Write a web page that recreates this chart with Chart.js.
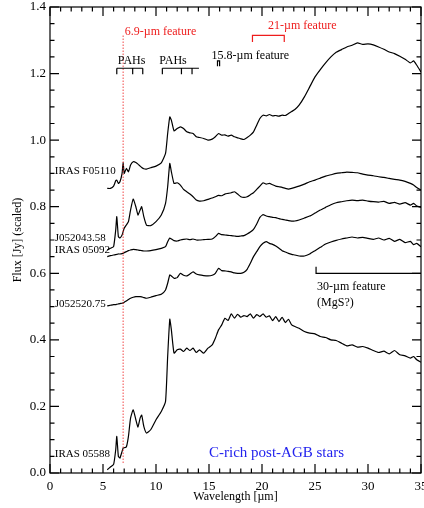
<!DOCTYPE html>
<html>
<head>
<meta charset="utf-8">
<script src="https://cdn.jsdelivr.net/npm/chart.js@4.4.1/dist/chart.umd.min.js"></script>
<style>
    html, body { margin: 0; padding: 0; background: #fff; }
    #wrap { width: 424px; height: 508px; }
</style>
</head>
<body>
<div id="wrap"><canvas id="spectra" width="424" height="508"></canvas></div>
<script>
// wavelength grid (µm), shared by all spectra
const wavelength = [
    5.4, 5.7, 6.0, 6.2, 6.3, 6.45, 6.6, 6.8, 6.9, 7.0,
    7.2, 7.4, 7.6, 7.85, 8.1, 8.3, 8.5, 8.65, 8.85, 9.1,
    9.5, 10.0, 10.5, 10.9, 11.1, 11.3, 11.45, 11.7, 12.0, 12.3,
    12.6, 12.9, 13.2, 13.5, 13.8, 14.1, 14.5, 14.9, 15.3, 15.6,
    15.9, 16.2, 16.5, 16.8, 17.1, 17.4, 17.7, 18.0, 18.3, 18.6,
    18.9, 19.2, 19.5, 19.8, 20.1, 20.4, 20.7, 21.0, 21.3, 21.6,
    21.9, 22.2, 22.5, 22.8, 23.1, 23.5, 24.0, 24.5, 25.0, 25.5,
    26.0, 26.5, 27.0, 27.5, 28.0, 28.5, 29.0, 29.5, 30.0, 30.5,
    31.0, 31.5, 32.0, 32.5, 33.0, 33.5, 34.0, 34.3, 34.6, 35.0
];

const fluxF05110 = [
    0.855, 0.855, 0.862, 0.878, 0.880, 0.870, 0.875, 0.900, 0.933, 0.900,
    0.915, 0.905, 0.925, 0.935, 0.933, 0.928, 0.922, 0.918, 0.914, 0.913,
    0.917, 0.922, 0.932, 0.960, 1.020, 1.070, 1.060, 1.028, 1.035, 1.040,
    1.035, 1.025, 1.022, 1.020, 1.010, 1.008, 1.005, 1.000, 1.003, 1.010,
    1.020, 1.015, 1.016, 1.012, 1.015, 1.010, 1.007, 1.004, 1.002, 1.008,
    1.015, 1.025, 1.045, 1.065, 1.075, 1.073, 1.077, 1.073, 1.074, 1.072,
    1.075, 1.074, 1.080, 1.086, 1.092, 1.105, 1.130, 1.160, 1.190, 1.212,
    1.232, 1.250, 1.264, 1.272, 1.280, 1.285, 1.292, 1.288, 1.289, 1.286,
    1.280, 1.273, 1.265, 1.260, 1.252, 1.243, 1.232, 1.238, 1.225, 1.205
];

const fluxJ052043 = [
    0.670, 0.675, 0.680, 0.730, 0.770, 0.710, 0.706, 0.715, 0.725, 0.735,
    0.745, 0.755, 0.790, 0.823, 0.800, 0.775, 0.790, 0.800, 0.770, 0.745,
    0.743, 0.755, 0.775, 0.810, 0.860, 0.930, 0.905, 0.870, 0.872, 0.865,
    0.852, 0.845, 0.838, 0.830, 0.820, 0.817, 0.818, 0.822, 0.826, 0.830,
    0.834, 0.833, 0.838, 0.840, 0.842, 0.845, 0.838, 0.830, 0.828, 0.830,
    0.836, 0.842, 0.852, 0.862, 0.872, 0.868, 0.870, 0.866, 0.862, 0.860,
    0.858, 0.855, 0.853, 0.855, 0.858, 0.862, 0.868, 0.875, 0.880, 0.886,
    0.892, 0.896, 0.900, 0.902, 0.904, 0.903, 0.902, 0.898, 0.895, 0.893,
    0.890, 0.888, 0.885, 0.882, 0.880, 0.876, 0.870, 0.865, 0.858, 0.850
];

const flux05092 = [
    0.650, 0.653, 0.655, 0.656, 0.657, 0.658, 0.658, 0.659, 0.660, 0.662,
    0.665, 0.668, 0.670, 0.672, 0.671, 0.670, 0.669, 0.668, 0.667, 0.667,
    0.668, 0.671, 0.675, 0.680, 0.695, 0.706, 0.703, 0.698, 0.697, 0.700,
    0.702, 0.703, 0.701, 0.703, 0.700, 0.700, 0.701, 0.702, 0.703, 0.710,
    0.720, 0.716, 0.715, 0.714, 0.713, 0.712, 0.711, 0.712, 0.713, 0.718,
    0.724, 0.732, 0.748, 0.768, 0.776, 0.772, 0.770, 0.768, 0.767, 0.764,
    0.762, 0.760, 0.758, 0.757, 0.757, 0.760, 0.766, 0.772, 0.781, 0.790,
    0.798, 0.806, 0.812, 0.815, 0.818, 0.820, 0.818, 0.820, 0.817, 0.815,
    0.814, 0.816, 0.810, 0.813, 0.808, 0.812, 0.805, 0.810, 0.802, 0.798
];

const fluxJ052520 = [
    0.502, 0.504, 0.506, 0.506, 0.507, 0.508, 0.509, 0.510, 0.511, 0.513,
    0.517, 0.521, 0.525, 0.528, 0.530, 0.530, 0.530, 0.529, 0.527, 0.525,
    0.528, 0.533, 0.537, 0.550, 0.570, 0.595, 0.592, 0.585, 0.587, 0.600,
    0.594, 0.592, 0.598, 0.604, 0.598, 0.595, 0.593, 0.592, 0.594, 0.600,
    0.615, 0.608, 0.607, 0.606, 0.604, 0.601, 0.600, 0.600, 0.603, 0.612,
    0.630, 0.650, 0.665, 0.680, 0.690, 0.695, 0.690, 0.687, 0.682, 0.675,
    0.668, 0.664, 0.660, 0.657, 0.655, 0.652, 0.652, 0.658, 0.668, 0.678,
    0.688, 0.694, 0.699, 0.703, 0.706, 0.709, 0.706, 0.708, 0.705, 0.702,
    0.706, 0.700, 0.705, 0.696, 0.702, 0.692, 0.696, 0.686, 0.690, 0.680
];

const flux05588 = [
    0.010, 0.018, 0.026, 0.070, 0.110, 0.050, 0.045, 0.065, 0.075, 0.076,
    0.078, 0.110, 0.165, 0.190, 0.160, 0.138, 0.165, 0.174, 0.140, 0.120,
    0.130, 0.160, 0.185, 0.215, 0.350, 0.462, 0.430, 0.360, 0.370, 0.372,
    0.365, 0.375, 0.368, 0.375, 0.362, 0.370, 0.360, 0.375, 0.385, 0.405,
    0.430, 0.445, 0.465, 0.458, 0.478, 0.465, 0.477, 0.468, 0.473, 0.470,
    0.478, 0.465, 0.476, 0.470, 0.478, 0.468, 0.472, 0.458, 0.470, 0.455,
    0.468, 0.452, 0.462, 0.445, 0.440, 0.435, 0.425, 0.420, 0.418, 0.410,
    0.407, 0.400, 0.398, 0.390, 0.382, 0.385, 0.378, 0.380, 0.375, 0.368,
    0.362, 0.366, 0.358, 0.368, 0.355, 0.352, 0.345, 0.350, 0.340, 0.333
];

const seriesFlux = [fluxF05110, fluxJ052043, flux05092, fluxJ052520, flux05588];

const starNames = ['IRAS F05110', 'J052043.58', 'IRAS 05092', 'J052520.75', 'IRAS 05588'];
const nameLevels = [0.907, 0.706, 0.670, 0.508, 0.057];

const serif = '"Liberation Serif", "DejaVu Serif", serif';

function toPoints(flux) {
    return flux.map((f, i) => ({ x: wavelength[i], y: f }));
}

// box with inward ticks on all four sides, IDL style
const framePlugin = {
    id: 'frame',
    afterDatasetsDraw(chart) {
        const { ctx, chartArea: a, scales: { x, y } } = chart;
        ctx.save();
        ctx.strokeStyle = '#000';
        ctx.lineWidth = 1.2;
        ctx.strokeRect(a.left, a.top, a.right - a.left, a.bottom - a.top);
        ctx.beginPath();
        for (let v = 0; v <= 35; v++) {
            const px = x.getPixelForValue(v);
            const len = v % 5 === 0 ? 9 : 4.5;
            ctx.moveTo(px, a.bottom); ctx.lineTo(px, a.bottom - len);
            ctx.moveTo(px, a.top); ctx.lineTo(px, a.top + len);
        }
        for (let i = 0; i <= 28; i++) {
            const py = y.getPixelForValue(i * 0.05);
            const len = i % 4 === 0 ? 9 : 4.5;
            ctx.moveTo(a.left, py); ctx.lineTo(a.left + len, py);
            ctx.moveTo(a.right, py); ctx.lineTo(a.right - len, py);
        }
        ctx.stroke();
        ctx.restore();
    }
};

const notesPlugin = {
    id: 'notes',
    afterDatasetsDraw(chart) {
        const { ctx, scales: { x, y } } = chart;
        const X = v => x.getPixelForValue(v);
        const Y = v => y.getPixelForValue(v);
        ctx.save();

        // 6.9-µm dotted marker
        ctx.strokeStyle = 'rgba(240, 40, 40, 0.85)';
        ctx.lineWidth = 1;
        ctx.setLineDash([1.5, 1.5]);
        ctx.beginPath();
        ctx.moveTo(X(6.9), Y(0.03));
        ctx.lineTo(X(6.9), Y(1.318));
        ctx.stroke();
        ctx.setLineDash([]);

        ctx.font = '12px ' + serif;
        ctx.textBaseline = 'middle';
        ctx.fillStyle = '#ee1c1c';
        ctx.textAlign = 'left';
        ctx.fillText('6.9-µm feature', X(7.05), Y(1.325));

        // 21-µm bracket
        ctx.strokeStyle = '#ee1c1c';
        ctx.lineWidth = 1.2;
        ctx.beginPath();
        ctx.moveTo(X(19.1), Y(1.295));
        ctx.lineTo(X(19.1), Y(1.315));
        ctx.lineTo(X(22.1), Y(1.315));
        ctx.lineTo(X(22.1), Y(1.295));
        ctx.stroke();
        ctx.textAlign = 'center';
        ctx.fillText('21-µm feature', X(23.8), Y(1.343));

        // PAH brackets
        ctx.strokeStyle = '#000';
        ctx.fillStyle = '#000';
        const pahSets = [
            { from: 6.3, to: 8.75, marks: [6.3, 7.8, 8.75], label: 7.7 },
            { from: 10.6, to: 14.05, marks: [10.6, 12.4, 13.4], label: 11.6 }
        ];
        pahSets.forEach(p => {
            ctx.beginPath();
            ctx.moveTo(X(p.from), Y(1.216));
            ctx.lineTo(X(p.to), Y(1.216));
            p.marks.forEach(m => {
                ctx.moveTo(X(m), Y(1.216));
                ctx.lineTo(X(m), Y(1.198));
            });
            ctx.stroke();
            ctx.fillText('PAHs', X(p.label), Y(1.237));
        });

        // 15.8-µm mark
        ctx.beginPath();
        ctx.moveTo(X(15.8), Y(1.222));
        ctx.lineTo(X(15.8), Y(1.238));
        ctx.lineTo(X(16.0), Y(1.238));
        ctx.lineTo(X(16.0), Y(1.222));
        ctx.stroke();
        ctx.fillText('15.8-µm feature', X(18.9), Y(1.253));

        // 30-µm bracket
        ctx.beginPath();
        ctx.moveTo(X(25.1), Y(0.62));
        ctx.lineTo(X(25.1), Y(0.6));
        ctx.lineTo(X(35), Y(0.6));
        ctx.stroke();
        ctx.textAlign = 'left';
        ctx.fillText('30-µm feature', X(25.2), Y(0.558));
        ctx.fillText('(MgS?)', X(25.2), Y(0.51));

        // star names
        ctx.font = '11px ' + serif;
        starNames.forEach((n, i) => ctx.fillText(n, X(0.45), Y(nameLevels[i])));

        ctx.font = '15px ' + serif;
        ctx.fillStyle = '#2222ee';
        ctx.fillText('C-rich post-AGB stars', X(15.0), Y(0.06));

        // axis titles
        ctx.fillStyle = '#000';
        ctx.font = '12px ' + serif;
        ctx.textAlign = 'center';
        ctx.fillText('Wavelength [µm]', X(17.5), 497);
        ctx.translate(18, Y(0.7));
        ctx.rotate(-Math.PI / 2);
        ctx.fillText('Flux [Jy] (scaled)', 0, 0);
        ctx.restore();
    }
};

new Chart(document.getElementById('spectra'), {
    type: 'line',
    data: {
        datasets: seriesFlux.map((f, i) => ({
            label: starNames[i],
            data: toPoints(f),
            borderColor: '#000',
            borderWidth: 1.2,
            pointRadius: 0,
            tension: 0.15,
            fill: false
        }))
    },
    options: {
        responsive: false,
        animation: false,
        layout: { padding: { top: 7, right: 3 } },
        plugins: {
            legend: { display: false },
            tooltip: { enabled: false }
        },
        scales: {
            x: {
                type: 'linear',
                min: 0,
                max: 35,
                grid: { display: false, drawTicks: false },
                border: { display: false },
                ticks: { stepSize: 5, color: '#000', padding: 6, font: { family: serif, size: 13 }, maxRotation: 0 },
                afterFit: s => { s.height = 35; s.paddingLeft = 0; s.paddingRight = 0; }
            },
            y: {
                min: 0,
                max: 1.4,
                grid: { display: false, drawTicks: false },
                border: { display: false },
                ticks: {
                    stepSize: 0.2, color: '#000', padding: 4,
                    font: { family: serif, size: 13 },
                    callback: v => v.toFixed(1)
                },
                afterFit: s => { s.width = 50; s.paddingTop = 0; s.paddingBottom = 0; }
            }
        }
    },
    plugins: [framePlugin, notesPlugin]
});
</script>
</body>
</html>
